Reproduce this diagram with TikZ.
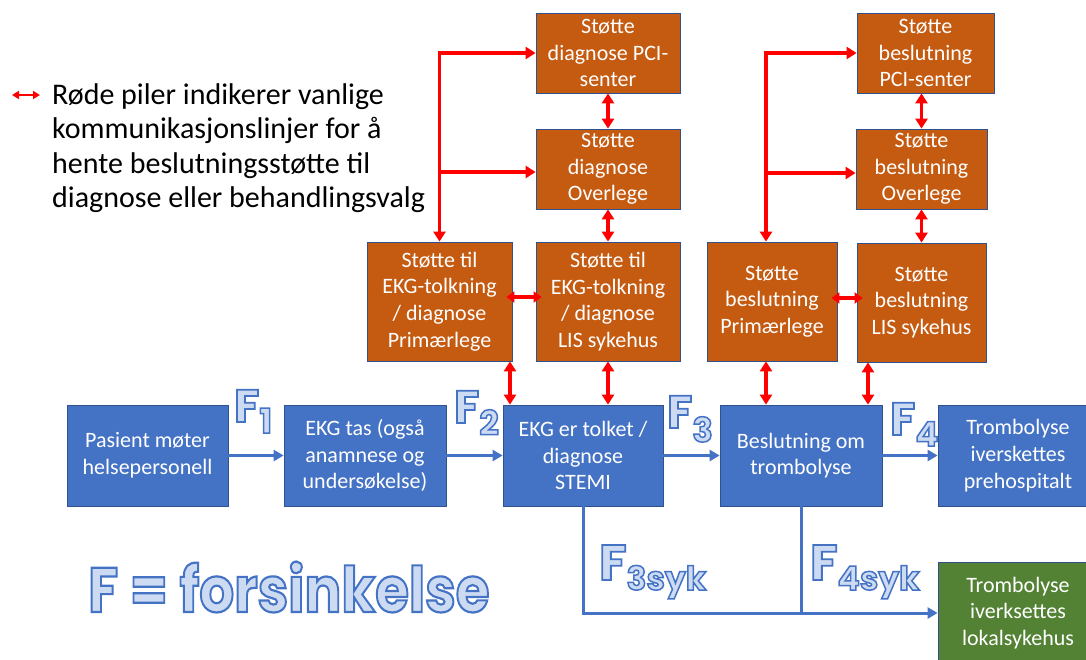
\documentclass[tikz,border=0pt]{standalone}
\usepackage{fontspec}
\setmainfont{Carlito}
\newfontfamily\ffont{Poppins}
\usetikzlibrary{arrows.meta}
\definecolor{bbox}{HTML}{4472C4}
\definecolor{obox}{HTML}{C55A11}
\definecolor{gbox}{HTML}{548235}
\definecolor{edgec}{HTML}{2F528F}
\definecolor{redl}{HTML}{FF0000}
\newcommand\outl[2]{\special{pdf:literal direct 2 Tr #1 w 0.267 0.447 0.769 RG 0.80 0.86 0.95 rg}#2\special{pdf:literal direct 0 Tr}}
\newcommand\Fl[4]{{\ffont\bfseries\fontsize{#1}{#1}\selectfont\outl{1.8}{F}}\raisebox{-#3}{\ffont\bfseries\fontsize{#2}{#2}\selectfont\outl{1.5}{#4}}}
\tikzset{
  box/.style={draw=edgec, line width=0.8pt, text=white, align=center, inner sep=0pt,
    font=\fontsize{22pt}{26.7pt}\selectfont},
  bluebox/.style={box, fill=bbox},
  orbox/.style={box, fill=obox},
  grbox/.style={box, fill=gbox},
  redarr/.style={draw=redl, line width=3.5pt, {Triangle[length=10pt,width=12pt]}-{Triangle[length=10pt,width=12pt]}},
  redshort/.style={draw=redl, line width=3.5pt, {Triangle[length=8pt,width=11pt]}-{Triangle[length=8pt,width=11pt]}, shorten <=-6pt, shorten >=-6pt},
  redone/.style={draw=redl, line width=3.5pt, -{Triangle[length=10pt,width=12pt]}},
  bluearr/.style={draw=bbox, line width=3pt, -{Triangle[length=10pt,width=11pt]}},
  blueline/.style={draw=bbox, line width=3pt},
  flab/.style={inner sep=0pt, text=bbox},
}
\begin{document}
\begin{tikzpicture}[x=1pt, y=-1pt]
\useasboundingbox (0,0) rectangle (1086,659);
% bottom row
\node[bluebox, minimum width=161pt, minimum height=101pt] (pas) at (147.5,455.5) {Pasient møter\\helsepersonell};
\node[bluebox, minimum width=162pt, minimum height=101pt] (ekg) at (365,455.5) {EKG tas (også\\anamnese og\\undersøkelse)};
\node[bluebox, minimum width=160pt, minimum height=101pt] (tolk) at (583,455.5) {EKG er tolket /\\diagnose\\STEMI};
\node[bluebox, minimum width=162pt, minimum height=101pt] (besl) at (801,455.5) {Beslutning om\\trombolyse};
\node[bluebox, minimum width=160pt, minimum height=101pt] (preh) at (1018,455.5) {Trombolyse\\iverskettes\\prehospitalt};
\node[grbox, minimum width=160pt, minimum height=102pt] (lok) at (1018,613) {Trombolyse\\iverksettes\\lokalsykehus};
% diagnose support
\node[orbox, minimum width=144pt, minimum height=80pt] (dpci) at (608,53) {Støtte\\diagnose PCI-\\senter};
\node[orbox, minimum width=144pt, minimum height=80pt] (dover) at (608,169) {Støtte\\diagnose\\Overlege};
\node[orbox, minimum width=144pt, minimum height=119pt] (dlis) at (608,301.5) {Støtte til\\EKG-tolkning\\/ diagnose\\LIS sykehus};
\node[orbox, minimum width=145pt, minimum height=119pt] (dprim) at (439.5,301.5) {Støtte til\\EKG-tolkning\\/ diagnose\\Primærlege};
% beslutning support
\node[orbox, minimum width=137pt, minimum height=80pt] (bpci) at (925.5,53) {Støtte\\beslutning\\PCI-senter};
\node[orbox, minimum width=131pt, minimum height=80pt] (bover) at (921.5,169) {Støtte\\beslutning\\Overlege};
\node[orbox, minimum width=129pt, minimum height=119pt] (blis) at (921.5,302.5) {Støtte\\beslutning\\LIS sykehus};
\node[orbox, minimum width=130pt, minimum height=119pt] (bprim) at (772,301.5) {Støtte\\beslutning\\Primærlege};
% legend
\coordinate (la) at (12,95);
\coordinate (lb) at (40,95);
\draw[draw=redl, line width=2pt, {Triangle[length=7pt,width=8pt]}-{Triangle[length=7pt,width=8pt]}] (la) -- (lb);
\node[anchor=base west, align=left, inner sep=0pt, text=black, font=\fontsize{30pt}{34.5pt}\selectfont] (leg) at (52,207.5)
 {Røde piler indikerer vanlige\\kommunikasjonslinjer for å\\hente beslutningsstøtte til\\diagnose eller behandlingsvalg};
% blue flow
\draw[bluearr] (pas.east) -- (ekg.west);
\draw[bluearr] (ekg.west -| ekg.east) -- (tolk.west);
\draw[bluearr] (tolk.east) -- (besl.west);
\draw[bluearr] (besl.east) -- (preh.west);
\draw[bluearr] (tolk.south) |- (lok.west);
\draw[blueline] (besl.south) -- (besl.south |- lok.west);
% red diagnose
\draw[redarr] (dprim.north) |- (dpci.west);
\draw[redone] (dprim.north |- 0,172) -- (dover.west |- 0,172);
\draw[redarr] (dpci.south) -- (dover.north);
\draw[redarr] (dover.south) -- (dlis.north);
\draw[redshort] (dprim.east |- 0,297) -- (dlis.west |- 0,297);
\draw[redarr] (dprim.south -| 510,0) -- (tolk.north -| 510,0);
\draw[redarr] (dlis.south) -- (dlis.south |- tolk.north);
% red beslutning
\draw[redarr] (bprim.north -| 766,0) |- (bpci.west);
\draw[redone] (766,173) -- (bover.west |- 0,173);
\draw[redarr] (bover.north |- bpci.south) -- (bover.north);
\draw[redarr] (bover.south) -- (blis.north);
\draw[redshort] (bprim.east |- 0,298) -- (blis.west |- 0,298);
\draw[redarr] (bprim.south -| 766,0) -- (besl.north -| 766,0);
\draw[redarr] (blis.south -| 868,0) -- (besl.north -| 868,0);
% F labels
\node[flab, anchor=base west] (f1) at (234,422) {\Fl{46pt}{34pt}{11pt}{1}};
\node[flab, anchor=base west] (f2) at (454,423) {\Fl{46pt}{34pt}{12pt}{2}};
\node[flab, anchor=base west] (f3) at (667,428) {\Fl{46pt}{34pt}{14pt}{3}};
\node[flab, anchor=base west] (f4) at (890,435) {\Fl{46pt}{34pt}{11pt}{4}};
\node[flab, anchor=base west] (f3s) at (599,580) {\Fl{50pt}{33pt}{10pt}{3syk}};
\node[flab, anchor=base west] (f4s) at (810,580) {\Fl{50pt}{33pt}{10pt}{4syk}};
\node[flab, anchor=base west] (fz) at (88,612) {\scalebox{0.87}[1]{\ffont\bfseries\fontsize{63pt}{63pt}\selectfont\outl{2.2}{F = forsinkelse}}};
\end{tikzpicture}
\end{document}
